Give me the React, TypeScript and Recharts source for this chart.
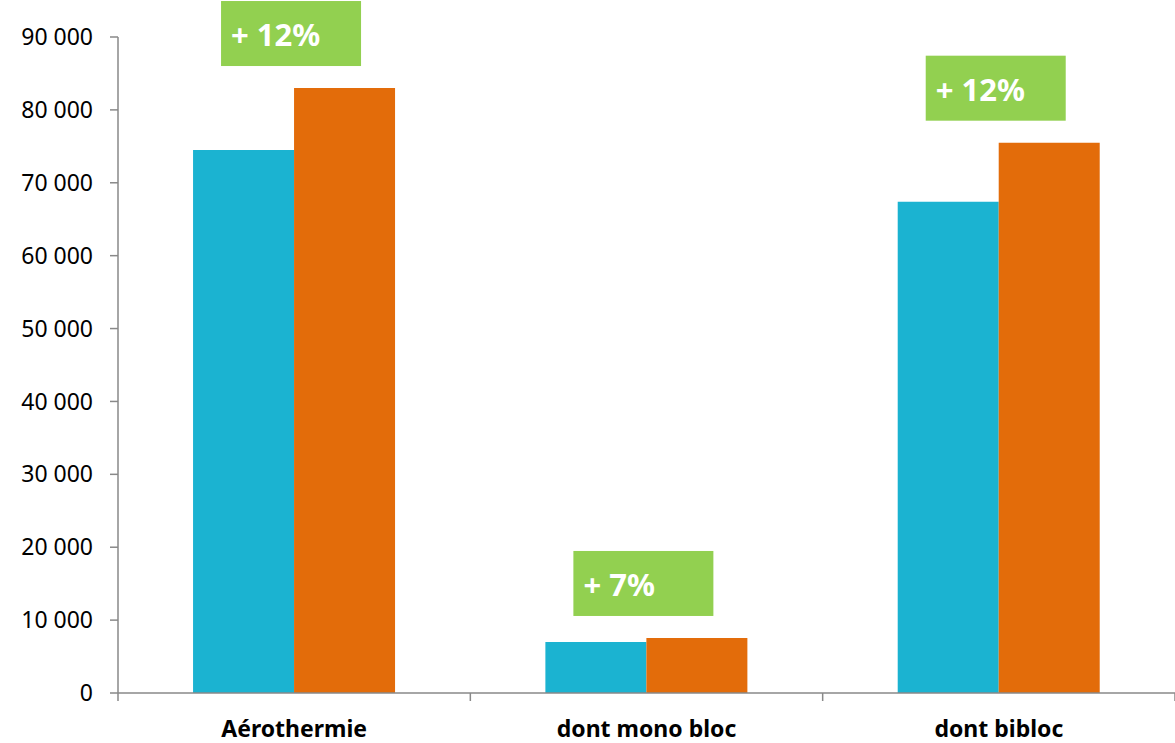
import React from "react";
import { BarChart, Bar, XAxis, YAxis } from "recharts";

const categories = ["Aérothermie", "dont mono bloc", "dont bibloc"];
const series2021 = [74500, 7000, 67400];
const series2022 = [83000, 7550, 75500];
const growthLabels = ["+ 12%", "+ 7%", "+ 12%"];
const yTicks = [0, 10000, 20000, 30000, 40000, 50000, 60000, 70000, 80000, 90000];

const data = categories.map((c, i) => ({
  name: c,
  a: series2021[i],
  b: series2022[i],
  label: growthLabels[i],
}));

const FONT = "'Noto Sans', 'Open Sans', sans-serif";
const AXIS = "#898989";
const W = 1175;
const H = 743;
const LEFT = 118;
const HALF_BAND = (W - LEFT) / categories.length / 2;

const fmt = (v: number) =>
  v === 0 ? "0" : String(v).replace(/\B(?=(\d{3})+(?!\d))/g, " ");

const CatTick = (props: any) => {
  const { x, y, payload, index } = props;
  return (
    <g>
      <line x1={x - HALF_BAND} x2={x - HALF_BAND} y1={y - 8} y2={y} stroke={AXIS} strokeWidth={1.5} />
      {index === categories.length - 1 && (
        <line x1={x + HALF_BAND} x2={x + HALF_BAND} y1={y - 8} y2={y} stroke={AXIS} strokeWidth={1.5} />
      )}
      <text
        x={x}
        y={y + 36}
        textAnchor="middle"
        fontFamily={FONT}
        fontWeight="bold"
        fontSize={23}
        fill="#000"
      >
        {payload.value}
      </text>
    </g>
  );
};

const GrowthLabel = (props: any) => {
  const { x, y, index } = props;
  const bx = x - 73;
  const by = y - 22 - 65;
  return (
    <g>
      <rect x={bx} y={by} width={140} height={65} fill="#92D050" />
      <text
        x={bx + 10}
        y={by + 45}
        fontFamily={FONT}
        fontWeight="bold"
        fontSize={31}
        fill="#fff"
      >
        {growthLabels[index]}
      </text>
    </g>
  );
};

export default function App() {
  return (
    <div style={{ position: "absolute", left: 0, top: 0, width: W, height: H, background: "#fff" }}>
      <BarChart
        width={W}
        height={H}
        data={data}
        margin={{ top: 37, right: 0, bottom: 0, left: 0 }}
        barCategoryGap="21.3%"
        barGap={0}
      >
        <XAxis
          dataKey="name"
          height={50}
          tickLine={false}
          axisLine={{ stroke: AXIS, strokeWidth: 1.5 }}
          tick={<CatTick />}
          interval={0}
        />
        <YAxis
          width={LEFT}
          domain={[0, 90000]}
          ticks={yTicks}
          tickFormatter={fmt}
          tickSize={8}
          tickMargin={17}
          axisLine={{ stroke: AXIS, strokeWidth: 1.5 }}
          tickLine={{ stroke: AXIS, strokeWidth: 1.5 }}
          tick={{ fontFamily: FONT, fontSize: 23, fill: "#000" }}
          interval={0}
        />
        <Bar dataKey="a" name="2021" fill="#1BB3D1" isAnimationActive={false} />
        <Bar dataKey="b" name="2022" fill="#E36C0A" isAnimationActive={false} label={<GrowthLabel />} />
      </BarChart>
    </div>
  );
}
